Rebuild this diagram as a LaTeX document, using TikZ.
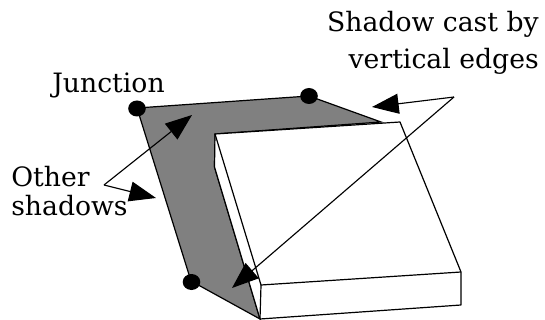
\documentclass[tikz,border=0pt]{standalone}
\usepackage{fontspec}
\setmainfont{DejaVu Serif}
\usetikzlibrary{arrows.meta,shapes.geometric}
\tikzset{
    junction/.style={ellipse, fill=black, inner sep=0pt, minimum width=13.2pt, minimum height=12pt},
    callout/.style={font=\fontsize{20}{22}\selectfont, inner sep=0pt, align=left},
    pointer/.style={line width=0.85pt, -{Triangle[length=20pt, width=15pt]}},
    shadowedge/.style={draw=black, fill=black!50, line width=0.9pt},
    boxedge/.style={draw=black, line width=0.9pt, line join=round},
}
\begin{document}
\begin{tikzpicture}[x=0.75pt, y=-0.75pt]
    \useasboundingbox (0,0) rectangle (545,320);
    % shadow on the ground, then the slab on top of it
    \filldraw[shadowedge] (137,108) -- (309,96) -- (381,122) -- (215,134) -- (214.5,167) -- (260,319) -- (191,281) -- cycle;
    \filldraw[boxedge, fill=white] (215,134) -- (400,122) -- (461,272) -- (461,305) -- (260,319) -- (214.5,167) -- cycle;
    \draw[boxedge] (215,134) -- (261,285) -- (461,272);
    \draw[boxedge] (261,285) -- (260,319);
    % junction dots
    \node[junction] (junctionA) at (137,108.5) {};
    \node[junction] (junctionB) at (309,96) {};
    \node[junction] (junctionC) at (191.5,282) {};
    % labels
    \node[callout, anchor=base west] (junctionlabel) at (52,92.5) {Junction};
    \node[callout, anchor=base west] (otherlabel) at (11,187) {Other};
    \node[callout, anchor=base west] (shadowslabel) at (11,215) {shadows};
    \node[callout, anchor=base east] (castlabel) at (539,32) {Shadow cast by};
    \node[callout, anchor=base east] (edgeslabel) at (539,69) {vertical edges};
    % arrows
    \coordinate (otherfork) at (104,185);
    \coordinate (castfork) at (454,97);
    \coordinate (tipA) at (192,115);
    \coordinate (tipB) at (156,198);
    \coordinate (tipC) at (372,107);
    \coordinate (tipD) at (232,288);
    \draw[pointer] (otherfork) -- (tipA);
    \draw[pointer] (otherfork) -- (tipB);
    \draw[pointer] (castfork) -- (tipC);
    \draw[pointer] (castfork) -- (tipD);
\end{tikzpicture}
\end{document}
